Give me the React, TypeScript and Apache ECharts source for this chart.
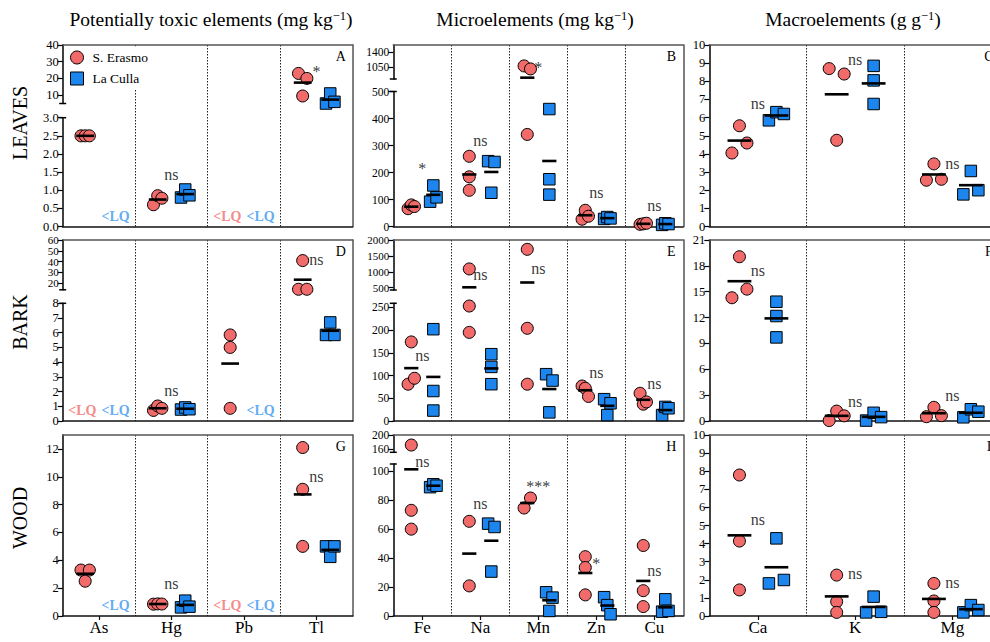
import React, { useEffect, useRef } from 'react';
import * as echarts from 'echarts';

const FAMILY = 'Liberation Serif';
const FONT = '"Liberation Serif", serif';
const RED = '#F26B6B';
const BLUE = '#1C86EE';
const LQ_RED = '#F26B6B';
const LQ_BLUE = '#3A96F0';

// ---------- categories ----------
const catsToxic = ['As', 'Hg', 'Pb', 'Tl'];
const catsMicro = ['Fe', 'Na', 'Mn', 'Zn', 'Cu'];
const catsMacro = ['Ca', 'K', 'Mg'];

// ---------- values (S. Erasmo = SE, La Culla = LC); null = <LQ ----------
const leavesToxicSE = [[2.5, 2.5, 2.5], [0.6, 0.85, 0.78], null, [23, 9.5, 20]];
const leavesToxicLC = [null, [0.8, 1.02, 0.86], null, [5, 11, 6]];
const leavesMicroSE = [[66, 80, 74], [260, 184, 134], [1080, 341, 1011], [27, 60, 38], [8, 10, 12]];
const leavesMicroLC = [[92, 152, 108], [242, 125, 239], [435, 175, 118], [28, 35, 30], [6, 12, 9]];
const leavesMacroSE = [[4.05, 5.55, 4.6], [8.7, 4.75, 8.4], [2.55, 3.45, 2.6]];
const leavesMacroLC = [[5.85, 6.3, 6.2], [8.85, 8.05, 6.75], [1.77, 3.06, 2.0]];

const barkToxicSE = [null, [0.72, 1.02, 0.86], [5.85, 5.0, 0.86], [14.5, 41, 14.5]];
const barkToxicLC = [null, [0.78, 0.92, 0.8], null, [5.85, 6.7, 5.85]];
const barkMicroSE = [[81, 174, 94], [1090, 253, 195], [1707, 204, 81], [77, 72, 54], [61, 37, 42]];
const barkMicroLC = [[202, 66, 23], [147, 119, 81], [103, 19, 89], [48, 13, 39], [13, 31, 28]];
const barkMacroSE = [[14.3, 19.06, 15.3], [0.05, 1.15, 0.6], [0.5, 1.59, 0.62]];
const barkMacroLC = [[13.84, 12.18, 9.7], [0.05, 0.95, 0.45], [0.43, 1.36, 1.08]];

const woodToxicSE = [[3.3, 2.5, 3.3], [0.85, 0.87, 0.86], null, [12.1, 9.1, 5.0]];
const woodToxicLC = [null, [0.62, 1.1, 0.67], null, [5.0, 4.25, 5.0]];
const woodMicroSE = [[171, 73, 60], [65.4, 20.8], [74.6, 81.5], [41, 33.5, 14.6], [48.7, 17.5, 6.5]];
const woodMicroLC = [[89, 91, 90], [63.8, 30.7, 61.5], [16.4, 3.5, 12.7], [13, 7.5, 1.2], [3, 11.5, 3.5]];
const woodMacroSE = [[7.79, 4.14, 1.44], [2.26, 0.79, 0.2], [1.8, 0.83, 0.2]];
const woodMacroLC = [[1.8, 4.29, 1.99], [0.2, 1.07, 0.23], [0.2, 0.6, 0.33]];

// ---------- significance labels and their heights ----------
const leavesToxicSig = [null, 'ns', null, '*'];
const leavesToxicSigY = [null, 1.4, null, 26.7];
const leavesMicroSig = ['*', 'ns', '*', 'ns', 'ns'];
const leavesMicroSigY = [231, 314, 1130, 122, 74];
const leavesMacroSig = ['ns', 'ns', 'ns'];
const leavesMacroSigY = [6.7, 9.13, 3.37];
const barkToxicSig = [null, 'ns', null, 'ns'];
const barkToxicSigY = [null, 1.95, null, 40.3];
const barkMicroSig = ['ns', 'ns', 'ns', 'ns', 'ns'];
const barkMicroSigY = [140, 868, 1056, 104, 79];
const barkMacroSig = ['ns', 'ns', 'ns'];
const barkMacroSigY = [17.3, 2.05, 2.82];
const woodToxicSig = [null, 'ns', null, 'ns'];
const woodToxicSigY = [null, 2.23, null, 9.88];
const woodMicroSig = ['ns', 'ns', '***', '*', 'ns'];
const woodMicroSigY = [106, 76.4, 92, 39.3, 30.7];
const woodMacroSig = ['ns', 'ns', 'ns'];
const woodMacroSigY = [5.26, 2.26, 1.77];

// ---------- tick labels ----------
const ticksLeavesToxicUpper = [10, 20, 30, 40];
const ticksLeavesToxicLower = [0, 0.5, 1, 1.5, 2, 2.5, 3];
const ticksLeavesMicroUpper = [1050, 1400];
const ticksLeavesMicroLower = [0, 100, 200, 300, 400, 500];
const ticksLeavesMacro = [0, 1, 2, 3, 4, 5, 6, 7, 8, 9, 10];
const ticksBarkToxicUpper = [20, 30, 40, 50, 60];
const ticksBarkToxicLower = [0, 1, 2, 3, 4, 5, 6, 7, 8];
const ticksBarkMicroUpper = [500, 1000, 1500, 2000];
const ticksBarkMicroLower = [0, 50, 100, 150, 200, 250];
const ticksBarkMacro = [0, 3, 6, 9, 12, 15, 18, 21];
const ticksWoodToxic = [0, 2, 4, 6, 8, 10, 12];
const ticksWoodMicroUpper = [160, 200];
const ticksWoodMicroLower = [0, 20, 40, 60, 80, 100];
const ticksWoodMacro = [0, 1, 2, 3, 4, 5, 6, 7, 8, 9, 10];

// ---------- layout ----------
const COLS = [
  { left: 62.7, right: 352.7, jitter: 4.2, tickFont: 12.5, title: 'Potentially toxic elements (mg kg{s|−1})', titleX: 211 },
  { left: 393.3, right: 683.3, jitter: 3.2, tickFont: 11.5, title: 'Microelements (mg kg{s|−1})', titleX: 535 },
  { left: 709.3, right: 1001, jitter: 7.5, tickFont: 12.5, title: 'Macroelements (g g{s|−1})', titleX: 853 },
];
const ROWS = [
  { top: 45, bottom: 226.5, label: 'LEAVES', labelY: 123 },
  { top: 240, bottom: 421, label: 'BARK', labelY: 322 },
  { top: 435, bottom: 616, label: 'WOOD', labelY: 518 },
];

const PANELS: any[] = [
  { row: 0, col: 0, letter: 'A', cats: catsToxic, se: leavesToxicSE, lc: leavesToxicLC, sig: leavesToxicSig, sigY: leavesToxicSigY,
    segs: [{ min: 5, max: 40, ticks: ticksLeavesToxicUpper, top: 45, bottom: 103.5 },
           { min: 0, max: 3, ticks: ticksLeavesToxicLower, top: 117.7, bottom: 226.5, dec: 1 }] },
  { row: 0, col: 1, letter: 'B', cats: catsMicro, se: leavesMicroSE, lc: leavesMicroLC, sig: leavesMicroSig, sigY: leavesMicroSigY,
    segs: [{ min: 780, max: 1560, ticks: ticksLeavesMicroUpper, top: 45, bottom: 79 },
           { min: 0, max: 500, ticks: ticksLeavesMicroLower, top: 91.5, bottom: 226.5 }] },
  { row: 0, col: 2, letter: 'C', cats: catsMacro, se: leavesMacroSE, lc: leavesMacroLC, sig: leavesMacroSig, sigY: leavesMacroSigY,
    segs: [{ min: 0, max: 10, ticks: ticksLeavesMacro, top: 45, bottom: 226.5 }] },
  { row: 1, col: 0, letter: 'D', cats: catsToxic, se: barkToxicSE, lc: barkToxicLC, sig: barkToxicSig, sigY: barkToxicSigY,
    segs: [{ min: 14, max: 60, ticks: ticksBarkToxicUpper, top: 240, bottom: 289.8, font: 11 },
           { min: 0, max: 8, ticks: ticksBarkToxicLower, top: 303.3, bottom: 421 }] },
  { row: 1, col: 1, letter: 'E', cats: catsMicro, se: barkMicroSE, lc: barkMicroLC, sig: barkMicroSig, sigY: barkMicroSigY,
    segs: [{ min: 428, max: 2000, ticks: ticksBarkMicroUpper, top: 240, bottom: 290, font: 11 },
           { min: 0, max: 259, ticks: ticksBarkMicroLower, top: 303.3, bottom: 421 }] },
  { row: 1, col: 2, letter: 'F', cats: catsMacro, se: barkMacroSE, lc: barkMacroLC, sig: barkMacroSig, sigY: barkMacroSigY,
    segs: [{ min: 0, max: 21, ticks: ticksBarkMacro, top: 240, bottom: 421 }] },
  { row: 2, col: 0, letter: 'G', cats: catsToxic, se: woodToxicSE, lc: woodToxicLC, sig: woodToxicSig, sigY: woodToxicSigY,
    segs: [{ min: 0, max: 13, ticks: ticksWoodToxic, top: 435, bottom: 616 }] },
  { row: 2, col: 1, letter: 'H', cats: catsMicro, se: woodMicroSE, lc: woodMicroLC, sig: woodMicroSig, sigY: woodMicroSigY,
    segs: [{ min: 150, max: 200, ticks: ticksWoodMicroUpper, top: 435, bottom: 452.3 },
           { min: 0, max: 105, ticks: ticksWoodMicroLower, top: 464, bottom: 616 }] },
  { row: 2, col: 2, letter: 'I', cats: catsMacro, se: woodMacroSE, lc: woodMacroLC, sig: woodMacroSig, sigY: woodMacroSigY,
    segs: [{ min: 0, max: 10, ticks: ticksWoodMacro, top: 435, bottom: 616 }] },
];

function jitterOffsets(vals: number[], toPx: (v: number) => number, step: number) {
  const idx = vals.map((_, i) => i).sort((a, b) => toPx(vals[a]) - toPx(vals[b]));
  const clusters: number[][] = [];
  let cur: number[] = [idx[0]];
  for (let k = 1; k < idx.length; k++) {
    if (toPx(vals[idx[k]]) - toPx(vals[idx[k - 1]]) < 10.5) cur.push(idx[k]);
    else { clusters.push(cur); cur = [idx[k]]; }
  }
  clusters.push(cur);
  const off = vals.map(() => 0);
  clusters.forEach((c) => {
    const m = [...c].sort((a, b) => a - b);
    if (m.length === 2) { off[m[0]] = -step; off[m[1]] = step; }
    else if (m.length >= 3) m.forEach((mi, k) => { off[mi] = (k - (m.length - 1) / 2) * step; });
  });
  return off;
}

function buildOption() {
  const grid: any[] = [], xAxis: any[] = [], yAxis: any[] = [], series: any[] = [], graphic: any[] = [];

  PANELS.forEach((p) => {
    const col = COLS[p.col], row = ROWS[p.row];
    const n = p.cats.length, width = col.right - col.left, cellW = width / n;
    const bottomRow = p.row === 2;

    // frame grid: bottom category axis with dotted dividers, top and right border
    const gf = grid.length;
    grid.push({ left: col.left, top: row.top, width, height: row.bottom - row.top, outerBoundsMode: 'none', containLabel: false });
    xAxis.push({
      type: 'category', gridIndex: gf, data: p.cats, position: 'bottom',
      axisLine: { show: true, onZero: false, lineStyle: { color: '#111', width: 1.5 } },
      axisTick: { show: bottomRow, alignWithLabel: true, length: 4, lineStyle: { color: '#111', width: 1.2 } },
      axisLabel: { show: bottomRow, fontSize: 17, margin: 3, color: '#000', fontFamily: FAMILY },
      splitLine: { show: true, showMinLine: false, showMaxLine: false, lineStyle: { type: [1.5, 1.5], color: '#222', width: 1 } },
    });
    xAxis.push({
      type: 'category', gridIndex: gf, data: p.cats, position: 'top',
      axisLine: { show: true, onZero: false, lineStyle: { color: '#555', width: 1.5 } },
      axisTick: { show: false }, axisLabel: { show: false }, splitLine: { show: false },
    });
    yAxis.push({
      type: 'value', gridIndex: gf, position: 'right', min: 0, max: 1,
      axisLine: { show: true, lineStyle: { color: '#555', width: 1.5 } },
      axisTick: { show: false }, axisLabel: { show: false }, splitLine: { show: false },
    });

    // data grids (one per axis segment)
    const segIdx: { xi: number; yi: number }[] = [];
    p.segs.forEach((s: any) => {
      const g = grid.length;
      grid.push({ left: col.left, top: s.top, width, height: s.bottom - s.top, outerBoundsMode: 'none', containLabel: false });
      segIdx.push({ xi: xAxis.length, yi: yAxis.length });
      xAxis.push({ type: 'value', gridIndex: g, min: -0.5, max: n - 0.5, show: false });
      yAxis.push({
        type: 'value', gridIndex: g, min: s.min, max: s.max, position: 'left',
        axisLine: { show: true, onZero: false, lineStyle: { color: '#000', width: 1.5 } },
        axisTick: { show: true, length: 5, customValues: s.ticks, lineStyle: { color: '#000', width: 1.2 } },
        axisLabel: {
          show: true, customValues: s.ticks, margin: 4, fontSize: s.font || col.tickFont, color: '#000', fontFamily: FAMILY,
          hideOverlap: false, showMinLabel: true, showMaxLabel: true,
          formatter: (v: number) => (s.dec ? v.toFixed(s.dec) : String(v)),
        },
        splitLine: { show: false },
      });
    });

    const segOf = (v: number) => {
      let best = 0, bd = Infinity;
      p.segs.forEach((s: any, i: number) => {
        const d = v < s.min ? s.min - v : v > s.max ? v - s.max : 0;
        if (d < bd) { bd = d; best = i; }
      });
      return best;
    };
    const toPx = (v: number) => {
      const s = p.segs[segOf(v)];
      return s.top + ((s.max - v) / (s.max - s.min)) * (s.bottom - s.top);
    };

    const buckets = p.segs.map(() => ({ se: [] as any[], lc: [] as any[], mean: [] as any[], lab: [] as any[] }));
    const groups = [
      { vals: p.se, side: -1, key: 'se', lq: LQ_RED },
      { vals: p.lc, side: 1, key: 'lc', lq: LQ_BLUE },
    ];
    groups.forEach((gr) => {
      gr.vals.forEach((vals: number[] | null, i: number) => {
        const xc = i + gr.side * 0.19;
        if (!vals) {
          const si = p.segs.length - 1, s = p.segs[si];
          const y = s.min + (10.5 * (s.max - s.min)) / (s.bottom - s.top);
          buckets[si].lab.push({
            name: '<LQ', value: [i + gr.side * 0.23, y],
            label: { color: gr.lq, fontWeight: 'bold', fontSize: 14, fontFamily: FAMILY },
          });
          return;
        }
        const offs = jitterOffsets(vals, toPx, col.jitter);
        vals.forEach((v, k) => (buckets[segOf(v)] as any)[gr.key].push([xc + offs[k] / cellW, v]));
        const m = vals.reduce((a, b) => a + b, 0) / vals.length;
        buckets[segOf(m)].mean.push([xc, m]);
      });
    });
    p.sig.forEach((t: string | null, i: number) => {
      if (!t) return;
      const y = p.sigY[i];
      const star = /^\*+$/.test(t);
      buckets[segOf(y)].lab.push({ name: t, value: [i, y], label: { offset: [0, star ? 4 : -1.5] } });
    });

    buckets.forEach((b: any, si: number) => {
      const { xi, yi } = segIdx[si];
      series.push({
        type: 'scatter', name: 'S. Erasmo', xAxisIndex: xi, yAxisIndex: yi, clip: false, silent: true, z: 3,
        symbol: 'circle', symbolSize: 12,
        itemStyle: { color: RED, borderColor: '#000', borderWidth: 1, opacity: 1 },
        data: b.se,
      });
      series.push({
        type: 'scatter', name: 'La Culla', xAxisIndex: xi, yAxisIndex: yi, clip: false, silent: true, z: 3,
        symbol: 'rect', symbolSize: 11.5,
        itemStyle: { color: BLUE, borderColor: '#000', borderWidth: 1, opacity: 1 },
        data: b.lc,
      });
      series.push({
        type: 'scatter', name: 'mean', xAxisIndex: xi, yAxisIndex: yi, clip: false, silent: true, z: 4,
        symbol: 'rect', symbolSize: [cellW * 0.245, 2.6],
        itemStyle: { color: '#000', opacity: 1 },
        data: b.mean,
      });
      series.push({
        type: 'scatter', name: 'labels', xAxisIndex: xi, yAxisIndex: yi, clip: false, silent: true, z: 5,
        symbolSize: 1, itemStyle: { color: 'rgba(0,0,0,0)' },
        label: { show: true, position: 'inside', formatter: '{b}', color: '#000', fontSize: 16, fontFamily: FAMILY },
        data: b.lab,
      });
    });

    graphic.push({
      type: 'text', x: col.right - 12, y: row.top + 11, z: 10,
      style: { text: p.letter, font: `14px ${FONT}`, fill: '#000', textAlign: 'center', textVerticalAlign: 'middle' },
    });
    if (p.segs.length === 2) {
      [p.segs[0].bottom, p.segs[1].top].forEach((y: number) => {
        graphic.push({ type: 'line', z: 10, shape: { x1: col.left - 3.5, y1: y, x2: col.left + 3.5, y2: y }, style: { stroke: '#000', lineWidth: 1.5 } });
      });
    }
  });

  COLS.forEach((c) => {
    graphic.push({
      type: 'text', x: c.titleX, y: 19, z: 10,
      style: {
        text: c.title, font: `19.5px ${FONT}`, fill: '#000', textAlign: 'center', textVerticalAlign: 'middle',
        rich: { s: { fontSize: 12.5, fontFamily: FAMILY, verticalAlign: 'top', fill: '#000' } },
      },
    });
  });
  ROWS.forEach((r) => {
    graphic.push({
      type: 'text', x: 20, y: r.labelY, rotation: Math.PI / 2, z: 10,
      style: { text: r.label, font: `20px ${FONT}`, fill: '#000', textAlign: 'center', textVerticalAlign: 'middle' },
    });
  });

  return {
    animation: false,
    backgroundColor: '#fff',
    textStyle: { fontFamily: FAMILY },
    legend: {
      left: 66, top: 46.5, orient: 'vertical', itemWidth: 13, itemHeight: 13, itemGap: 7,
      backgroundColor: '#fff', padding: [4, 8, 4, 4], selectedMode: false, z: 6,
      textStyle: { fontFamily: FAMILY, fontSize: 13.5, color: '#000', padding: [0, 0, 0, 4] },
      data: [
        { name: 'S. Erasmo', icon: 'circle', itemStyle: { color: RED, borderColor: '#000', borderWidth: 1 } },
        { name: 'La Culla', icon: 'rect', itemStyle: { color: BLUE, borderColor: '#000', borderWidth: 1 } },
      ],
    },
    grid, xAxis, yAxis, series, graphic,
  };
}

export default function App() {
  const ref = useRef<HTMLDivElement>(null);
  useEffect(() => {
    if (!ref.current) return;
    const chart = echarts.init(ref.current, null, { renderer: 'svg', width: 990, height: 642 });
    chart.setOption(buildOption() as any);
    return () => chart.dispose();
  }, []);
  return <div ref={ref} style={{ position: 'absolute', left: 0, top: 0, width: 990, height: 642 }} />;
}
